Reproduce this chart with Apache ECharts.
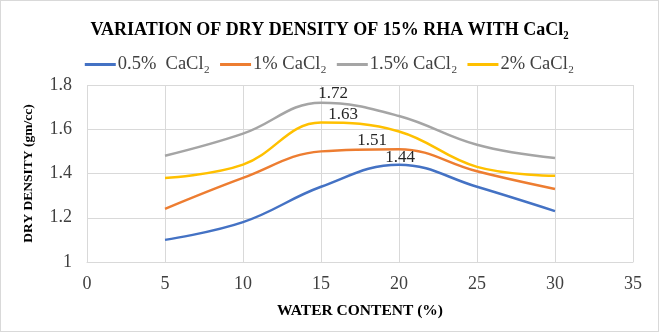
<!DOCTYPE html>
<html><head><meta charset="utf-8">
<script src="https://cdn.jsdelivr.net/npm/echarts@6/dist/echarts.min.js"></script>
<style>html,body{margin:0;padding:0;background:#fff}#c{width:659px;height:332px;box-sizing:border-box;border:1px solid #d9d9d9}</style>
</head><body><div id="c"></div>
<script>
const waterContent = [5, 10, 15, 20, 25, 30];
const seriesNames = ['0.5%  CaCl₂', '1% CaCl₂', '1.5% CaCl₂', '2% CaCl₂'];
const s05 = [1.10, 1.18, 1.34, 1.44, 1.34, 1.23];
const s1 = [1.24, 1.38, 1.50, 1.51, 1.41, 1.33];
const s15 = [1.48, 1.58, 1.72, 1.66, 1.53, 1.47];
const s2 = [1.38, 1.44, 1.63, 1.59, 1.43, 1.39];
const colors = ['#4472c4', '#ed7d31', '#a5a5a5', '#ffc000'];
// label shown only at peak: [index, dx, dy]
const peakLabels = [[3, 1, -7], [3, -27, -9], [2, 12, -9], [2, 22, -8]];
const allData = [s05, s1, s15, s2];
const font = 'Liberation Serif, Times New Roman, serif';

const chart = echarts.init(document.getElementById('c'));
chart.setOption({
  animation: false,
  title: {text: 'VARIATION OF DRY DENSITY OF 15% RHA WITH CaCl₂', left: 'center', top: 15,
    textStyle: {fontFamily: font, fontSize: 18, fontWeight: 'bold', color: '#000'}},
  legend: {top: 49, left: 'center', itemWidth: 31, itemHeight: 3, itemGap: 10,
    icon: 'rect',
    textStyle: {fontFamily: font, fontSize: 18.5, color: '#404040', padding: [0, 0, 0, -3]},
    data: seriesNames},
  grid: {left: 86, right: 25, top: 84, bottom: 69},
  xAxis: {type: 'value', min: 0, max: 35, interval: 5,
    name: 'WATER CONTENT (%)', nameLocation: 'middle', nameGap: 41,
    nameTextStyle: {fontFamily: font, fontSize: 15.5, fontWeight: 'bold', color: '#000'},
    axisLine: {show: true, lineStyle: {color: '#d9d9d9'}}, axisTick: {show: false},
    axisLabel: {fontFamily: font, fontSize: 18, color: '#404040', margin: 13},
    splitLine: {show: true, lineStyle: {color: '#d9d9d9'}}},
  yAxis: {type: 'value', min: 1, max: 1.8, interval: 0.2,
    name: 'DRY DENSITY (gm/cc)', nameLocation: 'middle', nameGap: 51,
    nameTextStyle: {fontFamily: font, fontSize: 13.5, fontWeight: 'bold', color: '#000'},
    axisLine: {show: false}, axisTick: {show: false},
    axisLabel: {fontFamily: font, fontSize: 18, color: '#404040', margin: 15,
      formatter: v => (Math.round(v*10)/10).toString()},
    splitLine: {show: true, lineStyle: {color: '#d9d9d9'}}},
  series: allData.map((d, i) => ({
    name: seriesNames[i], type: 'line', smooth: 0.4, showSymbol: true, symbol: 'circle', symbolSize: 0,
    lineStyle: {width: 2.5, color: colors[i]}, itemStyle: {color: colors[i]},
    data: d.map((v, j) => {
      const p = {value: [waterContent[j], v]};
      if (j === peakLabels[i][0]) {
        p.label = {show: true, position: [peakLabels[i][1], peakLabels[i][2]], align: 'center', verticalAlign: 'middle',
          fontFamily: font, fontSize: 17, color: '#262626', formatter: v.toFixed(2)};
      }
      return p;
    })
  }))
});
</script></body></html>
